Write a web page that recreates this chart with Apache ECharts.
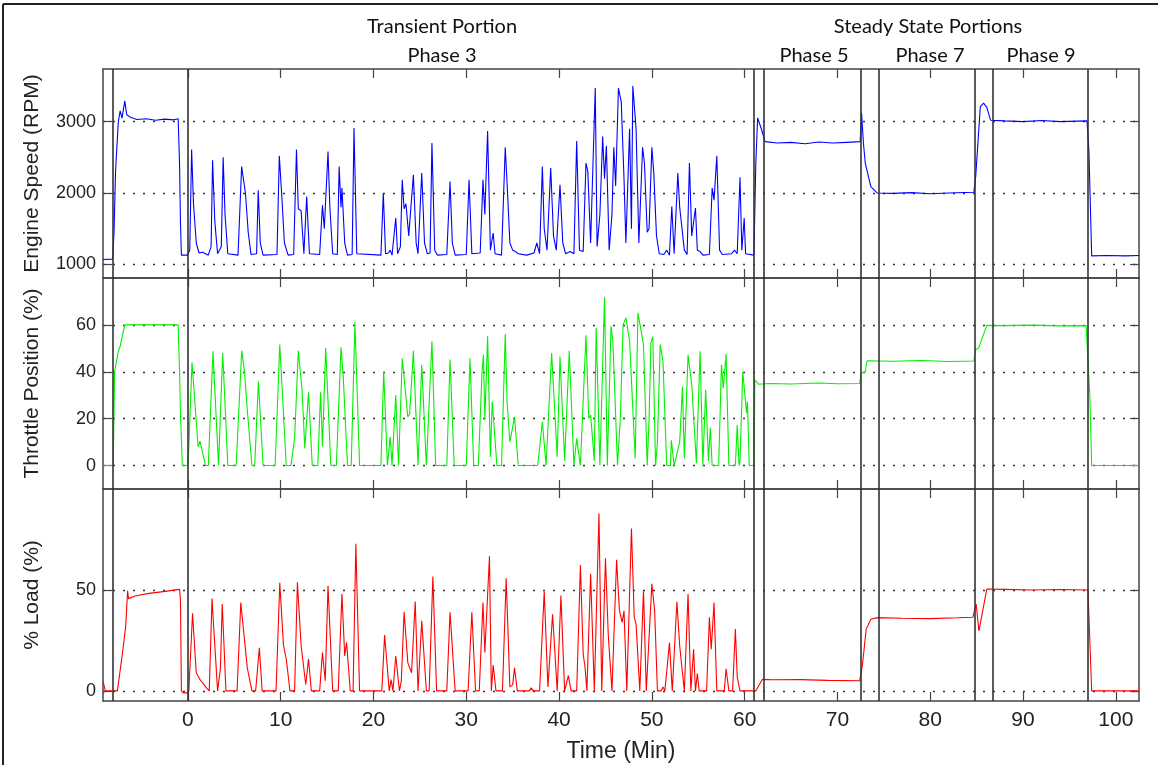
<!DOCTYPE html>
<html>
<head>
<meta charset="utf-8">
<script src="https://cdn.jsdelivr.net/npm/echarts@6/dist/echarts.min.js"></script>
<style>
html,body{margin:0;padding:0;background:#fff;}
#chart{width:1158px;height:765px;}
</style>
</head>
<body>
<div id="chart"></div>
<script>
// ---------- data ----------
const xTicks = [0,10,20,30,40,50,60,70,80,90,100];
const rpmTicks = [1000,2000,3000];
const thrTicks = [0,20,40,60];
const loadTicks = [0,50];
const phaseLines = [-8.05,-0.03,61.0,62.1,72.5,74.5,84.85,86.7,97.0];

const rpmT = [-9.15,-8.1,-7.95,-7.8,-7.5,-7.3,-7.1,-6.8,-6.6,-6.2,-5.5,-4.5,-3.5,-2.5,-1.5,-1.05,-0.9,-0.8,-0.7,-0.05,
0.2,0.4,0.6,0.9,1.2,1.6,2.2,2.5,2.66,2.9,3.2,3.6,3.8,4.0,4.3,5.4,5.79,6.2,6.5,6.8,7.4,7.58,7.8,8.1,9.6,9.85,10.1,10.4,10.8,
11.4,11.7,11.9,12.2,12.5,12.8,13.1,14.2,14.5,14.7,15.1,15.3,15.6,16.1,16.3,16.5,16.6,16.9,17.2,17.7,17.9,18.2,20.8,21.06,21.3,
21.6,21.8,22.0,22.4,22.6,22.9,23.1,23.3,23.5,23.8,24.3,24.6,24.8,25.2,25.5,25.8,26.1,26.3,26.6,26.9,27.9,28.25,28.5,28.8,
30.0,30.3,30.6,31.5,31.8,32.0,32.3,32.6,32.9,33.1,33.8,34.2,34.4,34.7,35.0,35.3,35.6,36.5,37.3,37.6,37.9,38.2,38.4,38.7,
39.1,39.4,39.7,40.1,40.4,40.7,41.2,41.6,41.9,42.2,42.6,42.9,43.1,43.4,43.9,44.1,44.4,44.7,44.9,45.1,45.4,45.7,45.9,46.1,
46.4,46.7,47.0,47.2,47.6,47.8,47.95,48.3,48.6,49.0,49.2,49.5,49.7,50.0,50.2,50.5,50.8,51.3,51.6,51.9,52.15,52.4,52.8,53.0,
53.2,53.5,53.8,54.05,54.3,54.7,54.9,55.2,55.5,56.2,56.5,56.7,57.0,57.3,57.6,58.6,58.9,59.2,59.5,59.7,59.95,60.1,61.0,61.2,
61.4,61.8,62.2,63.5,65,66.5,68,69.5,71,72.45,72.6,72.8,73.0,73.6,74.3,76,78,80,82,84.7,84.9,85.4,85.75,86.1,86.5,88,90,92,
94,96.9,97.1,97.4,99,101,102.5];
const rpmV = [1070,1075,1500,2300,3000,3150,3050,3290,3100,3060,3030,3040,3020,3035,3025,3040,2400,1580,1130,1130,
1200,2610,1860,1300,1160,1170,1130,1250,2460,1600,1150,1250,2500,1700,1150,1130,2370,2000,1450,1140,1150,2040,1300,1130,1140,2520,2000,1300,1130,
1140,2610,1780,1750,1150,1950,1150,1140,1830,1500,2580,1800,1150,1140,2370,1800,2070,1300,1130,1140,2910,1150,1130,2000,1150,
1160,1200,1130,1650,1150,1250,2185,1780,1850,1400,2255,1300,1150,2280,1300,1150,1160,2700,1200,1130,1140,2160,1300,1130,
1140,2185,1150,1160,2185,1700,2870,1200,1440,1150,1130,2640,2130,1300,1200,1180,1150,1130,1160,1300,1150,2370,1500,1200,
2350,1400,1200,2115,1300,1150,1180,1150,2730,1200,1180,2420,2300,1300,3470,1250,1700,2790,2200,2660,1200,1700,2640,2100,
3470,3280,2200,1300,2900,1500,3500,2900,1300,2640,2420,1450,1500,2640,2300,1400,1150,1140,1200,1130,1810,1150,2280,1800,
1780,1200,1140,2420,1400,1790,1200,1180,1130,1140,2070,1900,2520,1200,1140,1150,1200,1150,2220,1200,1650,1150,1130,2400,
3050,2900,2720,2700,2710,2690,2715,2700,2710,2720,3120,2700,2420,2090,2000,1995,2005,1990,2000,2010,2230,3210,3260,3200,3020,3010,3000,3015,
3000,3010,2600,1120,1125,1120,1125];

const thrT = [-9.15,-8.05,-7.9,-7.5,-7.3,-6.8,-4,-1.05,-0.9,-0.8,-0.6,-0.05,0.05,0.44,1.1,1.3,1.9,2.2,2.7,3.3,3.4,3.75,4.3,
5.2,5.8,6.1,6.4,6.9,7.2,7.6,8.1,9.4,9.9,10.6,11.1,11.5,11.9,12.3,12.6,13.0,13.4,14.0,14.3,14.5,14.85,15.4,16.0,16.5,16.75,
16.9,17.2,17.6,18.0,18.5,20.8,21.1,21.5,21.8,22.0,22.4,22.7,23.1,23.3,23.7,23.9,24.3,24.8,25.2,25.7,25.9,26.3,26.7,27.9,
28.25,28.7,30.0,30.4,30.8,31.3,31.7,31.85,32.0,32.3,32.6,32.8,33.3,33.8,34.2,34.4,34.7,34.9,35.2,35.6,37.7,38.2,38.6,38.8,
39.2,39.8,40.1,40.6,41.1,41.6,41.9,42.3,42.5,42.9,43.2,43.4,43.8,44.0,44.4,44.9,45.2,45.6,45.8,46.3,46.6,46.9,47.2,47.6,
47.7,48.2,48.5,49.1,49.5,49.7,49.9,50.1,50.4,50.6,50.9,51.2,51.6,52.0,52.1,52.4,53.0,53.3,53.5,53.9,54.3,54.8,55.2,55.5,
55.8,56.1,56.3,56.5,57.2,57.5,57.7,58.0,58.3,59.0,59.2,59.4,59.5,59.8,60.2,60.3,60.5,61.0,61.1,61.2,61.5,62.7,65,68,70,72.4,
72.55,73.0,73.2,76,79,82,84.7,84.9,85.2,86.1,88,91,94,96.8,97.2,97.4,102.5];
const thrV = [0,0,40,48.7,51,60,60,60,40,22,0,0,3,44,8,10.4,0,0,48.7,0,0,48,0,
0,49,40,23.7,0,0,35.8,0,0,51.6,0,0,11.6,49,32.3,7.3,31.3,0,0,31.3,8,50.1,0,0,50.4,37.2,
38,0,0,61.1,0,0,40,0,12.3,0,30.1,0,45.8,46.5,20.8,22,49,0,43,0,0,53,0,0,
45.2,0,0,45.8,0,0,40,47.2,19.4,55.1,3.7,27.3,0,0,56.1,27,10.1,10.1,20.8,0,0,18.7,0,0,
48,3.7,46.5,2,49,0,11.6,0,0,55.6,20.2,21.6,2,58.7,0,71.8,0,59.4,53,0,20,60,63,53.2,
54,3,65.1,51.6,0,20,52.3,55,0,10,51.6,44.4,0,0,10.8,0,10,33.7,3,47.2,34.4,1,48.7,0,
32.3,2,16.1,0,0,43,33,47.6,0,0,17.3,0,2,40,22.3,27.3,0,0,36.6,37.3,34.7,35,34.8,35.2,34.9,35,
39.4,40,44.7,44.5,44.8,44.4,44.6,49.4,50,59.8,59.7,59.9,59.6,59.7,30.1,0,0];

const loadT = [-9.15,-9.0,-8.9,-7.6,-7.0,-6.7,-6.5,-6.4,-5.7,-4.2,-2.45,-0.9,-0.8,-0.7,-0.5,-0.05,0.1,0.5,0.9,1.3,1.6,2.0,
2.3,2.6,2.8,3.2,3.5,3.7,4.1,5.3,5.7,6.4,6.9,7.3,7.7,8.0,9.5,9.9,10.3,10.6,11.0,11.5,11.8,12.2,12.7,13.0,13.3,14.2,14.5,
14.8,15.1,15.6,16.2,16.6,16.9,17.1,17.5,17.8,18.1,18.5,20.9,21.2,21.7,21.9,22.1,22.4,22.8,23.0,23.3,23.7,24.1,24.5,24.8,
25.2,25.7,26.0,26.4,26.8,27.9,28.25,28.8,30.2,30.6,31.0,31.4,31.8,32.0,32.5,32.7,32.9,33.2,33.9,34.3,34.7,35.0,35.2,35.5,
36.8,37.0,37.2,37.9,38.4,38.8,39.3,39.8,40.2,40.6,41.0,41.3,41.9,42.3,42.6,42.8,43.0,43.4,43.8,44.3,44.6,45.0,45.3,45.7,
46.2,46.5,46.8,47.0,47.3,47.8,48.1,48.3,48.7,49.1,49.4,50.0,50.3,50.6,51.0,51.2,51.4,51.9,52.2,52.7,53.0,53.5,53.9,54.2,
54.5,54.7,54.9,55.1,55.9,56.2,56.4,56.7,57.0,57.8,58.0,58.3,58.7,59.0,59.2,59.5,61.2,61.9,63,66,69,72.4,72.7,73.1,73.6,
74.3,77,80,83,84.6,84.95,85.25,86.1,88,91,94,97.0,97.4,102.5];
const loadV = [4.8,4.8,0,0,20.6,32.2,49.6,45.7,47,48.3,49.3,50.3,45,0,-1,-1,0,38.4,9,5.6,4,1.5,
0,45.8,30,0,11,43,0,0,43.8,11.4,0,0,21.4,0,0,53.5,22.5,15.8,0,0,53.8,22.5,3.2,15.8,0,0,19,
5,52.1,0,0,48,17.3,24,0,0,72.9,0,0,27.7,0,5.6,0,17.3,0,5,39.2,14,9,44.3,0,
34.7,0,0,56.6,0,0,39,0,0,39,0,0,43.8,19,66.7,0,12.8,0,0,55.8,2,3,11.4,0,
0,1.5,0,0,49.2,2,38,0,47.2,0,7.6,0,0,62.4,18.3,11.7,0,58,0,87.8,0,65.7,28,0,
65,40,33.9,39.7,0,80.4,36.5,33.2,0,49.7,0,53,40,0,0,2,0,23.9,0,44.2,22.3,0,48,0,
20.6,0,8.6,0,0,36.5,20.6,43.8,0,0,11,0,0,30.6,7,0,0,5.7,5.5,5.6,5.2,5,13.1,30.6,35.5,
36.3,36,35.8,36.2,36.5,43,29.7,50.5,50.3,50,50.2,50,0,0];

// ---------- chart ----------
const zip = (t, v) => t.map((x, i) => [x, v[i]]);
const X_MIN = -9.15, X_MAX = 102.5;
const FONT = 'Liberation Sans, Arial, sans-serif';
const HFONT = 'Lato, sans-serif';
const gridsPos = [
  {left:103, top:69, width:1036, height:209},
  {left:103, top:278, width:1036, height:211},
  {left:103, top:489, width:1036, height:212}
];
const yRanges = [[810,3737],[-10,80],[-5,100]];
const yTicks = [rpmTicks, thrTicks, loadTicks];
const yNames = ['Engine Speed (RPM)','Throttle Position (%)','% Load (%)'];
const colors = ['#0000ff','#00f000','#ff0000'];
const seriesData = [zip(rpmT,rpmV), zip(thrT,thrV), zip(loadT,loadV)];

const axisLine = {show:true, onZero:false, lineStyle:{color:'#444', width:1.5}};
const xAxes = [], yAxes = [], series = [];
for (let i = 0; i < 3; i++) {
  xAxes.push({
    type:'value', gridIndex:i, position:'bottom', min:X_MIN, max:X_MAX,
    axisLine, splitLine:{show:false},
    axisTick:{show:true, inside:true, length:9, customValues:xTicks, lineStyle:{color:'#444', width:1.2}},
    axisLabel:{show:i===2, customValues:xTicks, fontFamily:FONT, fontSize:21, color:'#222', margin:9,
      formatter:v => String(v)},
    name: i===2 ? 'Time (Min)' : '', nameLocation:'middle', nameGap:39,
    nameTextStyle:{fontFamily:FONT, fontSize:23, color:'#222'}
  });
  xAxes.push({
    type:'value', gridIndex:i, position:'top', min:X_MIN, max:X_MAX,
    axisLine, splitLine:{show:false},
    axisTick:{show:true, inside:true, length:9, customValues:xTicks, lineStyle:{color:'#444', width:1.2}},
    axisLabel:{show:false}
  });
  yAxes.push({
    type:'value', gridIndex:i, position:'left', min:yRanges[i][0], max:yRanges[i][1],
    axisLine,
    axisTick:{show:true, inside:true, length:9, customValues:yTicks[i], lineStyle:{color:'#444', width:1.2}},
    axisLabel:{customValues:yTicks[i], fontFamily:FONT, fontSize:18, color:'#222', margin:7,
      formatter:v => String(v)},
    splitLine:{show:true, lineStyle:{color:'#333', width:1.3, type:[2,8]}},
    name:yNames[i], nameLocation:'middle', nameGap:60, nameRotate:90,
    nameTextStyle:{fontFamily:FONT, fontSize:21, color:'#222'}
  });
  yAxes.push({
    type:'value', gridIndex:i, position:'right', min:yRanges[i][0], max:yRanges[i][1],
    axisLine, splitLine:{show:false},
    axisTick:{show:true, inside:true, length:9, customValues:yTicks[i], lineStyle:{color:'#444', width:1.2}},
    axisLabel:{show:false}
  });
  series.push({
    type:'line', xAxisIndex:i*2, yAxisIndex:i*2, data:seriesData[i],
    showSymbol:false, symbol:'none', animation:false,
    lineStyle:{color:colors[i], width:1.1}, itemStyle:{color:colors[i]},
    markLine:{
      silent:true, symbol:['none','none'], animation:false,
      label:{show:false},
      lineStyle:{color:'#333', width:1.6, type:'solid'},
      data:phaseLines.map(v => ({xAxis:v}))
    },
    z:3
  });
}

const headers = [
  {text:'Transient Portion', x:442, y:27},
  {text:'Phase 3', x:442, y:56},
  {text:'Steady State Portions', x:928, y:27},
  {text:'Phase 5', x:814, y:56},
  {text:'Phase 7', x:930, y:56},
  {text:'Phase 9', x:1041, y:56}
];

const chart = echarts.init(document.getElementById('chart'), null, {renderer:'canvas'});
chart.setOption({
  animation:false,
  backgroundColor:'#fff',
  grid:gridsPos,
  xAxis:xAxes,
  yAxis:yAxes,
  series:series,
  graphic:[
    {type:'line', shape:{x1:3, y1:4, x2:1158, y2:4}, style:{stroke:'#222', lineWidth:2}},
    {type:'line', shape:{x1:3, y1:4, x2:3, y2:765}, style:{stroke:'#222', lineWidth:2}}
  ].concat(headers.map(h => ({
    type:'text', x:h.x, y:h.y,
    style:{text:h.text, fontFamily:HFONT, fontSize:20, fill:'#111', align:'center', verticalAlign:'middle'}
  })))
});
</script>
</body>
</html>
